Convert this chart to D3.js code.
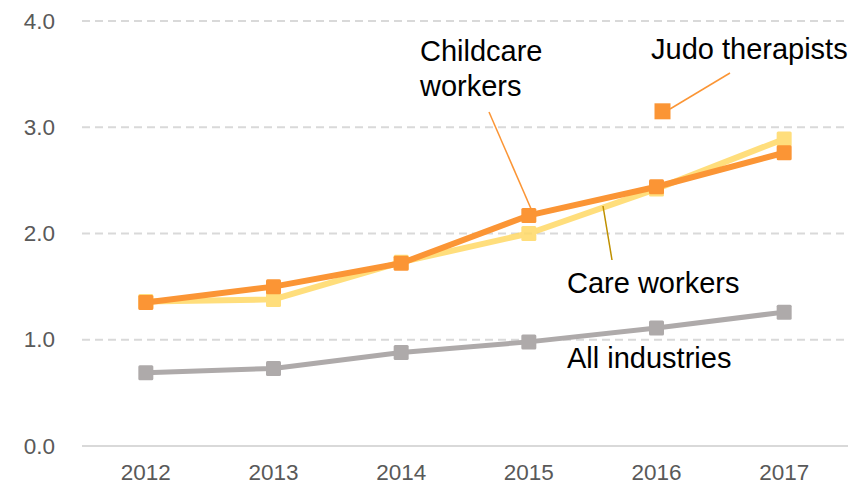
<!DOCTYPE html>
<html>
<head>
<meta charset="utf-8">
<script src="https://cdn.jsdelivr.net/npm/d3@7"></script>
<style>
  body { margin: 0; background: #fff; }
  svg { display: block; font-family: "Liberation Sans", Arial, sans-serif; }
</style>
</head>
<body>
<div id="chart"></div>
<script>
// data
var years = ["2012", "2013", "2014", "2015", "2016", "2017"];
var allIndustries = [0.69, 0.73, 0.88, 0.98, 1.11, 1.26];
var childcare = [1.35, 1.50, 1.72, 2.17, 2.44, 2.76];
var careWorkers = [1.36, 1.38, 1.73, 2.00, 2.42, 2.89];
var judoYear = "2016";
var judoValue = 3.15;
var yTicks = [0, 1, 2, 3, 4];

var W = 863, H = 486;
var margin = {top: 21, right: 15, bottom: 40, left: 82};
var width = W - margin.left - margin.right,
    height = H - margin.top - margin.bottom;

var svg = d3.select("#chart").append("svg")
  .attr("width", W)
  .attr("height", H);

var g = svg.append("g")
  .attr("transform", "translate(" + margin.left + "," + margin.top + ")");

var x = d3.scaleBand().domain(years).range([0, width]);
var y = d3.scaleLinear().domain([0, 4]).range([height, 0]);
var cx = function(yr) { return x(yr) + x.bandwidth() / 2; };

// gridlines
g.selectAll(".grid")
  .data(yTicks)
  .enter().append("line")
  .attr("class", "grid")
  .attr("x1", 0).attr("x2", width)
  .attr("y1", d => y(d)).attr("y2", d => y(d))
  .attr("stroke", "#d9d9d9")
  .attr("stroke-width", 2)
  .attr("stroke-dasharray", d => d === 0 ? null : "8,5");

// y axis labels
var yAxis = d3.axisLeft(y).tickValues(yTicks).tickFormat(d3.format(".1f")).tickSize(0).tickPadding(27);
g.append("g").call(yAxis)
  .call(a => a.select(".domain").remove())
  .selectAll("text")
  .attr("font-size", "22.5px")
  .attr("font-family", "Liberation Sans, Arial, sans-serif")
  .attr("fill", "#595959");

// x axis labels
var xAxis = d3.axisBottom(x).tickSize(0).tickPadding(18);
g.append("g").attr("transform", "translate(0," + height + ")").call(xAxis)
  .call(a => a.select(".domain").remove())
  .selectAll("text")
  .attr("font-size", "22.5px")
  .attr("font-family", "Liberation Sans, Arial, sans-serif")
  .attr("fill", "#595959");

var line = d3.line()
  .x((d, i) => cx(years[i]))
  .y(d => y(d));

function drawSeries(values, color, lw, size, opacity) {
  var s = g.append("g").attr("opacity", opacity);
  s.append("path")
    .datum(values)
    .attr("d", line)
    .attr("fill", "none")
    .attr("stroke", color)
    .attr("stroke-width", lw)
    .attr("stroke-linejoin", "round");
  s.selectAll("rect")
    .data(values)
    .enter().append("rect")
    .attr("x", (d, i) => cx(years[i]) - size / 2)
    .attr("y", d => y(d) - size / 2)
    .attr("width", size)
    .attr("height", size)
    .attr("rx", 1.5)
    .attr("fill", color);
}

drawSeries(allIndustries, "#aeaaaa", 5, 15, 1);
drawSeries(careWorkers, "#ffd966", 6, 15, 0.85);
drawSeries(childcare, "#fb9535", 6, 15, 1);

// judo therapists single point
g.append("rect")
  .attr("x", cx(judoYear) - 8 + 6)
  .attr("y", y(judoValue) - 8)
  .attr("width", 16)
  .attr("height", 16)
  .attr("fill", "#fb9535");

// annotations (absolute page coords)
var ann = svg.append("g").attr("font-size", "29px").attr("fill", "#000");

ann.append("line").attr("x1", 489).attr("y1", 112).attr("x2", 532).attr("y2", 211)
  .attr("stroke", "#fb9535").attr("stroke-width", 1.5);
ann.append("line").attr("x1", 730).attr("y1", 73).attr("x2", 670).attr("y2", 109)
  .attr("stroke", "#fb9535").attr("stroke-width", 1.5);
ann.append("line").attr("x1", 603).attr("y1", 206).attr("x2", 612).attr("y2", 260)
  .attr("stroke", "#bf9000").attr("stroke-width", 1.5);

ann.append("text").attr("x", 420).attr("y", 61).text("Childcare");
ann.append("text").attr("x", 420).attr("y", 96).text("workers");
ann.append("text").attr("x", 651).attr("y", 59).text("Judo therapists");
ann.append("text").attr("x", 567).attr("y", 293).text("Care workers");
ann.append("text").attr("x", 567).attr("y", 368).text("All industries");
</script>
</body>
</html>
